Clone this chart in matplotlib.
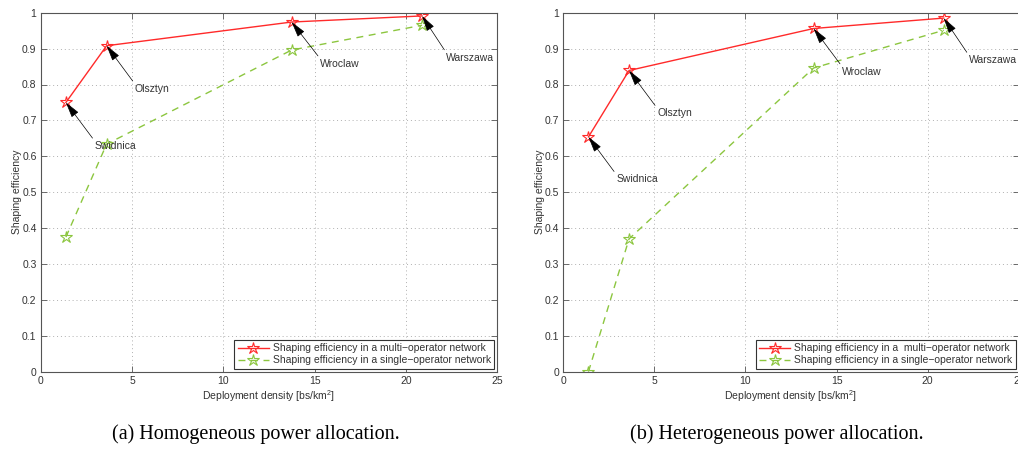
import matplotlib
matplotlib.use("Agg")
import matplotlib.pyplot as plt

plt.rcParams['font.family'] = ['Liberation Sans', 'DejaVu Sans']
plt.rcParams['mathtext.fontset'] = 'custom'
plt.rcParams['mathtext.rm'] = 'Liberation Sans'

# --- data
cities = ['Swidnica', 'Olsztyn', 'Wroclaw', 'Warszawa']
density = [1.38, 3.61, 13.74, 20.88]

homo_multi = [0.750, 0.908, 0.974, 0.991]
homo_single = [0.375, 0.634, 0.896, 0.965]
hetero_multi = [0.654, 0.839, 0.956, 0.985]
hetero_single = [0.0, 0.370, 0.846, 0.951]

# label positions (data coords) for city annotations
homo_text = [(2.95, 0.629), (5.15, 0.788), (15.3, 0.858), (22.2, 0.875)]
hetero_text = [(2.9, 0.536), (5.15, 0.720), (15.3, 0.836), (22.25, 0.868)]

captions = ['(a) Homogeneous power allocation.', '(b) Heterogeneous power allocation.']
legend_multi = ['Shaping efficiency in a multi\u2212operator network',
                'Shaping efficiency in a  multi\u2212operator network']
legend_single = 'Shaping efficiency in a single\u2212operator network'

RED = '#ff2a2a'
GREEN = '#8cc63f'
TXT = '#333333'

# --------------------------------------------------------------------------------

fig = plt.figure(figsize=(10.18, 4.57), dpi=100)
W, H = 1018.0, 457.0
ax_a = fig.add_axes([40.7 / W, (H - 371.7) / H, 456.6 / W, 359.0 / H])
ax_b = fig.add_axes([563.3 / W, (H - 371.7) / H, 455.5 / W, 359.0 / H])


def draw(ax, multi, single, texts, leg_multi, caption, cx):
    ax.plot(density, multi, '-', color=RED, lw=1.0, marker='*', ms=9,
            mfc='none', mec=RED, mew=0.8, label=leg_multi)
    ax.plot(density, single, '--', color=GREEN, lw=1.0, marker='*', ms=9,
            mfc='none', mec=GREEN, mew=0.8, dashes=(5, 4), label=legend_single)

    for name, x, y, (tx, ty) in zip(cities, density, multi, texts):
        ax.annotate(name, xy=(x, y), xytext=(tx, ty), ha='left', va='center',
                    fontsize=7.5, color=TXT,
                    arrowprops=dict(arrowstyle='-|>,head_length=0.75,head_width=0.2',
                                    color='k', lw=0.5,
                                    mutation_scale=13, shrinkA=0, shrinkB=0,
                                    relpos=(0.0, 1.0)))

    ax.set_xlim(0, 25)
    ax.set_ylim(0, 1)
    ax.set_xticks([0, 5, 10, 15, 20, 25])
    ax.set_yticks([i / 10 for i in range(11)])
    ax.set_yticklabels(['0', '0.1', '0.2', '0.3', '0.4', '0.5', '0.6', '0.7', '0.8', '0.9', '1'])
    ax.grid(True, linestyle=(0, (1, 3)), color='#b0b0b0', lw=0.7)
    ax.tick_params(direction='in', top=True, right=True, length=4, width=0.6,
                   labelsize=7.5, labelcolor=TXT, color='#555555', pad=3)
    for s in ax.spines.values():
        s.set_color('#555555')
        s.set_linewidth(0.8)
    ax.set_xlabel('Deployment density [bs/km$^2$]', fontsize=7.5, color=TXT, labelpad=2)
    ax.set_ylabel('Shaping efficiency', fontsize=7.5, color=TXT, labelpad=0)

    leg = ax.legend(loc='lower right', fontsize=7.5, fancybox=False, framealpha=1,
                    edgecolor='#333333', handlelength=3.0, handletextpad=0.4,
                    borderpad=0.3, labelspacing=0.2, borderaxespad=0.3)
    leg.get_frame().set_linewidth(0.8)
    for t in leg.get_texts():
        t.set_color(TXT)

    fig.text(cx, 1 - 434 / H, caption, ha='center', va='center',
             fontsize=14.5, family='Liberation Serif', color='black')


draw(ax_a, homo_multi, homo_single, homo_text, legend_multi[0], captions[0], 256 / W)
draw(ax_b, hetero_multi, hetero_single, hetero_text, legend_multi[1], captions[1], 777 / W)

fig.savefig('out.png', dpi=100)
